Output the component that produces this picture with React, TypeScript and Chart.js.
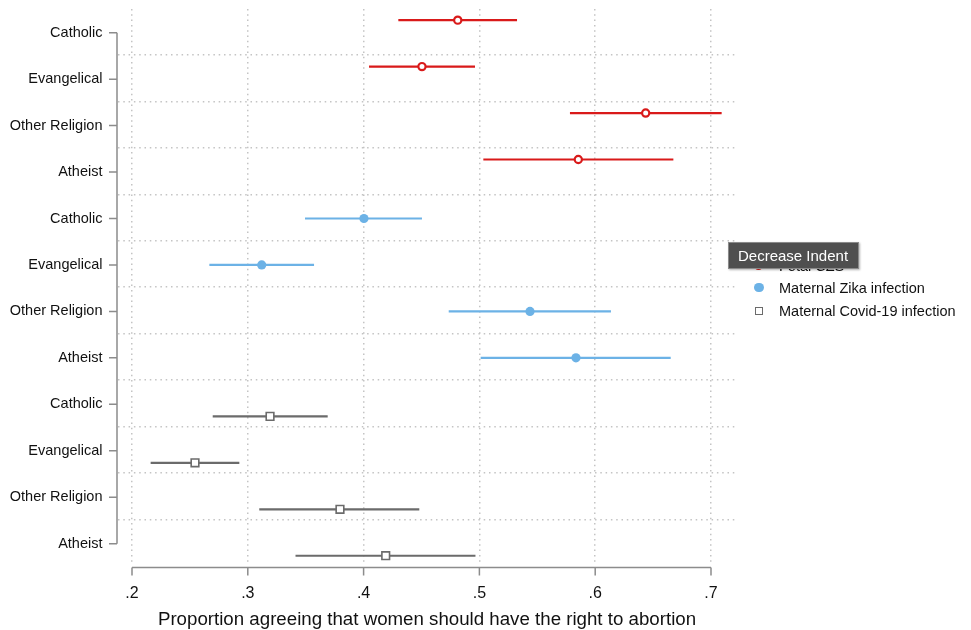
import React, { useEffect, useRef } from 'react';
import { Chart, registerables } from 'chart.js';

Chart.register(...registerables);

// ---------- data ----------
const RELIGIONS = ['Catholic', 'Evangelical', 'Other Religion', 'Atheist'];
const SERIES_NAMES = ['Fetal CZS', 'Maternal Zika infection', 'Maternal Covid-19 infection'];

const CZS_MEAN = [0.4813, 0.4504, 0.6436, 0.5854];
const CZS_LO = [0.4300, 0.4047, 0.5782, 0.5034];
const CZS_HI = [0.5325, 0.4962, 0.7092, 0.6675];

const ZIKA_MEAN = [0.4003, 0.3120, 0.5437, 0.5834];
const ZIKA_LO = [0.3494, 0.2668, 0.4735, 0.5011];
const ZIKA_HI = [0.4504, 0.3572, 0.6136, 0.6652];

const COVID_MEAN = [0.3192, 0.2544, 0.3796, 0.4191];
const COVID_LO = [0.2697, 0.2161, 0.3099, 0.3412];
const COVID_HI = [0.3690, 0.2927, 0.4481, 0.4966];

const Y_TICK_LABELS = [...RELIGIONS, ...RELIGIONS, ...RELIGIONS];
const Y_TICK_POS = [1, 2, 3, 4, 5, 6, 7, 8, 9, 10, 11, 12];
const X_TICKS = [0.2, 0.3, 0.4, 0.5, 0.6, 0.7];
const X_TICK_LABELS = ['.2', '.3', '.4', '.5', '.6', '.7'];
const X_TITLE = 'Proportion agreeing that women should have the right to abortion';
const TOOLTIP_TEXT = 'Decrease Indent';

// ---------- styles ----------
const RED = '#d91a1a';
const BLUE = '#6cb2e6';
const GRAY = '#6b6b6b';
const AXIS_COLOR = '#8c8c8c';
const GRID_COLOR = '#c4c4c4';
const FONT = "'Liberation Sans', Arial, Helvetica, sans-serif";

const SERIES = [
  { name: SERIES_NAMES[0], mean: CZS_MEAN, lo: CZS_LO, hi: CZS_HI, block: 0, shift: -0.27, color: RED },
  { name: SERIES_NAMES[1], mean: ZIKA_MEAN, lo: ZIKA_LO, hi: ZIKA_HI, block: 4, shift: 0, color: BLUE },
  { name: SERIES_NAMES[2], mean: COVID_MEAN, lo: COVID_LO, hi: COVID_HI, block: 8, shift: 0.26, color: GRAY },
];

const rowY = (s: any, i: number) => Y_TICK_POS[s.block + i] + s.shift;

const axisLines = {
  id: 'axisLines',
  afterDraw(chart: any) {
    const { ctx, chartArea } = chart;
    const x = chart.scales.x;
    const y = chart.scales.y;
    ctx.save();
    ctx.strokeStyle = AXIS_COLOR;
    ctx.lineWidth = 1.5;
    ctx.beginPath();
    const ax = chartArea.left - 1;
    const yTop = y.getPixelForValue(Y_TICK_POS[0]);
    const yBot = y.getPixelForValue(Y_TICK_POS[Y_TICK_POS.length - 1]);
    ctx.moveTo(ax, yTop);
    ctx.lineTo(ax, yBot);
    Y_TICK_POS.forEach((p) => {
      const py = y.getPixelForValue(p);
      ctx.moveTo(ax - 8, py);
      ctx.lineTo(ax, py);
    });
    const ay = chartArea.bottom + 5.5;
    const xL = x.getPixelForValue(X_TICKS[0]);
    const xR = x.getPixelForValue(X_TICKS[X_TICKS.length - 1]);
    ctx.moveTo(xL, ay);
    ctx.lineTo(xR, ay);
    X_TICKS.forEach((v) => {
      const px = x.getPixelForValue(v);
      ctx.moveTo(px, ay);
      ctx.lineTo(px, ay + 8);
    });
    ctx.stroke();
    ctx.restore();
  },
};

export default function App() {
  const canvasRef = useRef<HTMLCanvasElement | null>(null);

  useEffect(() => {
    if (!canvasRef.current) return;
    Chart.defaults.font.family = FONT;

    const pointSets = SERIES.map((s, k) => ({
      label: s.name,
      data: s.mean.map((m, i) => ({ x: m, y: rowY(s, i) })),
      showLine: false,
      pointStyle: k === 2 ? 'rect' : 'circle',
      pointRadius: k === 0 ? 3.6 : k === 1 ? 4.6 : 5.4,
      pointBorderWidth: k === 0 ? 2.2 : k === 1 ? 0 : 1.6,
      pointBorderColor: s.color,
      pointBackgroundColor: k === 1 ? s.color : '#ffffff',
      order: 0,
    }));

    const barSets = SERIES.map((s) => {
      const data: any[] = [];
      s.mean.forEach((_, i) => {
        data.push({ x: s.lo[i], y: rowY(s, i) });
        data.push({ x: s.hi[i], y: rowY(s, i) });
        data.push({ x: null, y: null });
      });
      return {
        label: s.name + ' CI',
        data,
        showLine: true,
        spanGaps: false,
        borderColor: s.color,
        borderWidth: 2.2,
        pointRadius: 0,
        order: 1,
      };
    });

    const noPad = (scale: any) => {
      scale.paddingTop = 0;
      scale.paddingBottom = 0;
    };

    const chart = new Chart(canvasRef.current, {
      type: 'scatter',
      data: { datasets: [...pointSets, ...barSets] as any },
      options: {
        animation: false,
        responsive: true,
        maintainAspectRatio: false,
        events: [],
        layout: { padding: { top: 9, right: 235, bottom: 0, left: 0 } },
        plugins: { legend: { display: false }, tooltip: { enabled: false } },
        scales: {
          x: {
            type: 'linear',
            min: 0.18791,
            max: 0.72159,
            afterBuildTicks: (scale: any) => {
              scale.ticks = X_TICKS.map((v) => ({ value: v }));
            },
            afterFit: (scale: any) => {
              scale.height = 68;
            },
            ticks: {
              autoSkip: false,
              maxRotation: 0,
              padding: 22,
              color: '#111',
              font: { size: 16 },
              callback: (_v: any, i: number) => X_TICK_LABELS[i],
            },
            grid: { color: GRID_COLOR, lineWidth: 1.5, drawTicks: false },
            border: { display: false, dash: [1.5, 3.8] },
            title: {
              display: true,
              text: X_TITLE,
              color: '#111',
              font: { size: 18.7, lineHeight: 1 },
              padding: { top: 0, bottom: 1 },
            },
          },
          y: {
            type: 'linear',
            position: 'left',
            reverse: true,
            min: 0.4898,
            max: 12.395,
            afterBuildTicks: (scale: any) => {
              scale.ticks = Y_TICK_POS.map((v) => ({ value: v }));
            },
            afterFit: (scale: any) => {
              scale.width = 118;
              noPad(scale);
            },
            ticks: {
              autoSkip: false,
              padding: 15.5,
              color: '#111',
              font: { size: 14.5 },
              callback: (_v: any, i: number) => Y_TICK_LABELS[i],
            },
            grid: { display: false, drawTicks: false },
            border: { display: false },
          },
          yGrid: {
            type: 'linear',
            position: 'left',
            reverse: true,
            min: 0.4898,
            max: 12.395,
            afterBuildTicks: (scale: any) => {
              scale.ticks = Y_TICK_POS.slice(0, -1).map((v) => ({ value: v + 0.48 }));
            },
            afterFit: (scale: any) => {
              scale.width = 0;
              noPad(scale);
            },
            ticks: { display: false },
            grid: { color: GRID_COLOR, lineWidth: 1.5, drawTicks: false },
            border: { display: false, dash: [1.5, 3.8] },
          },
        },
      } as any,
      plugins: [axisLines],
    });
    return () => chart.destroy();
  }, []);

  const legendRows = [265.5, 287.5, 310.5];
  const markerStyle = (k: number): React.CSSProperties => {
    if (k === 0)
      return { width: 9, height: 9, borderRadius: '50%', border: `2.2px solid ${RED}`, background: '#fff', boxSizing: 'border-box' };
    if (k === 1) return { width: 9.2, height: 9.2, borderRadius: '50%', background: BLUE };
    return { width: 8, height: 8, border: `1.6px solid ${GRAY}`, background: '#fff', boxSizing: 'border-box' };
  };

  return (
    <div style={{ position: 'fixed', left: 0, top: 0, width: 971, height: 630, background: '#fff', fontFamily: FONT }}>
      <canvas ref={canvasRef} />
      {SERIES.map((s, k) => (
        <div key={s.name}>
          <div
            style={{
              position: 'absolute',
              left: 759 - (k === 2 ? 4 : 4.6),
              top: legendRows[k] - (k === 2 ? 4 : 4.6),
              ...markerStyle(k),
            }}
          />
          <div
            style={{
              position: 'absolute',
              left: 779,
              top: legendRows[k] - 9,
              height: 18,
              lineHeight: '18px',
              fontSize: 14.5,
              color: '#111',
              whiteSpace: 'nowrap',
            }}
          >
            {s.name}
          </div>
        </div>
      ))}
      <div
        style={{
          position: 'absolute',
          left: 728,
          top: 242,
          width: 131,
          height: 27,
          boxSizing: 'border-box',
          background: '#4f4f4f',
          border: '1px solid #8a8a8a',
          color: '#fff',
          fontSize: 15,
          lineHeight: '25px',
          paddingLeft: 9,
          whiteSpace: 'nowrap',
          boxShadow: '1px 1px 2px rgba(0,0,0,0.3)',
        }}
      >
        {TOOLTIP_TEXT}
      </div>
    </div>
  );
}
